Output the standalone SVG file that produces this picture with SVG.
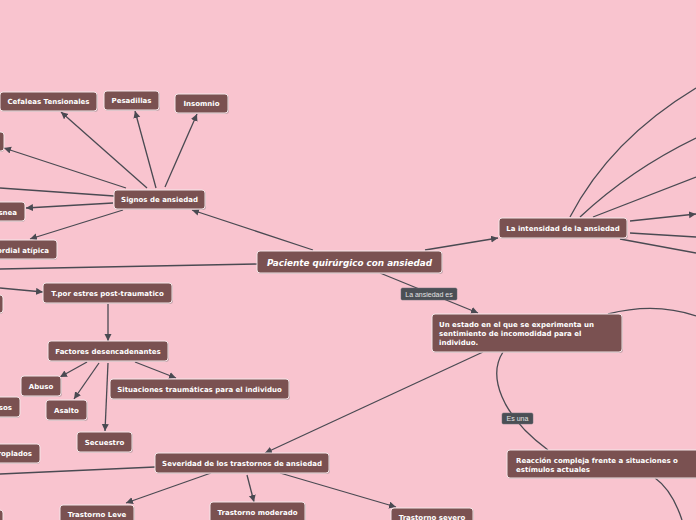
<svg xmlns="http://www.w3.org/2000/svg" width="696" height="520" viewBox="0 0 696 520">
<style>
.n{fill:#7A5151;stroke:#F3E6E8;stroke-width:1}
.sh{fill:#A8939A;opacity:0.6}
.t{font-family:"DejaVu Sans",Verdana,sans-serif;font-weight:bold;font-size:7px;fill:#FFFFFF;text-anchor:middle}
.te{text-anchor:end}
.tl{text-anchor:start}
.c{fill:none;stroke:#4A4A52;stroke-width:1.3}
.lb{fill:#4B4F55;stroke:#6a6f75;stroke-width:0.5}
.lt{font-family:"Liberation Sans",Arial,sans-serif;font-size:7px;fill:#E2E2E2}
</style>
<defs>
<marker id="ah" markerUnits="userSpaceOnUse" markerWidth="8" markerHeight="8" refX="7" refY="3.5" orient="auto">
<path d="M0,0 L7,3.5 L0,7 z" fill="#4A4A52"/>
</marker>
</defs>
<rect width="696" height="520" fill="#F9C4CF"/>
<g id="connectors">
<line class="c" x1="313" y1="250" x2="192" y2="210" marker-end="url(#ah)"/>
<line class="c" x1="257" y1="264" x2="0" y2="269"/>
<line class="c" x1="425" y1="250" x2="498" y2="238" marker-end="url(#ah)"/>
<line class="c" x1="380" y1="273" x2="478" y2="313" marker-end="url(#ah)"/>
<line class="c" x1="147" y1="188" x2="61" y2="112" marker-end="url(#ah)"/>
<line class="c" x1="156" y1="188" x2="135" y2="111" marker-end="url(#ah)"/>
<line class="c" x1="165" y1="187" x2="197" y2="114" marker-end="url(#ah)"/>
<line class="c" x1="126" y1="188" x2="4" y2="148" marker-end="url(#ah)"/>
<line class="c" x1="114" y1="196" x2="0" y2="188"/>
<line class="c" x1="113" y1="203" x2="26" y2="208" marker-end="url(#ah)"/>
<line class="c" x1="123" y1="210" x2="30" y2="239" marker-end="url(#ah)"/>
<line class="c" x1="0" y1="288" x2="43" y2="292" marker-end="url(#ah)"/>
<line class="c" x1="108" y1="304" x2="108" y2="341" marker-end="url(#ah)"/>
<line class="c" x1="87" y1="362" x2="60" y2="377" marker-end="url(#ah)"/>
<line class="c" x1="99" y1="363" x2="74" y2="399" marker-end="url(#ah)"/>
<line class="c" x1="108" y1="363" x2="105" y2="431" marker-end="url(#ah)"/>
<line class="c" x1="135" y1="362" x2="176" y2="378" marker-end="url(#ah)"/>
<line class="c" x1="483" y1="352" x2="265" y2="453" marker-end="url(#ah)"/>
<line class="c" x1="155" y1="467" x2="0" y2="474"/>
<line class="c" x1="211" y1="473" x2="126" y2="503" marker-end="url(#ah)"/>
<line class="c" x1="247" y1="475" x2="254" y2="502" marker-end="url(#ah)"/>
<line class="c" x1="280" y1="473" x2="396" y2="507" marker-end="url(#ah)"/>
<path class="c" d="M503,352 C488,375 500,415 548,450"/>
<path class="c" d="M608,314 Q655,302 696,316"/>
<path class="c" d="M655,478 Q672,490 682,520"/>
<path class="c" d="M570,217 Q610,140 696,88"/>
<path class="c" d="M580,217 Q630,170 696,138"/>
<line class="c" x1="593" y1="217" x2="696" y2="177"/>
<line class="c" x1="630" y1="221" x2="696" y2="214" marker-end="url(#ah)"/>
<line class="c" x1="630" y1="233" x2="696" y2="237"/>
<line class="c" x1="620" y1="239" x2="696" y2="253"/>
</g>
<g id="n-paciente">
<rect class="sh" x="258" y="252" width="185" height="22" rx="3"/>
<rect class="n" x="257" y="251" width="185" height="22" rx="3"/>
<text class="t" x="349.5" y="265.5" style="font-size:8.8px;font-style:italic">Paciente quirúrgico con ansiedad</text>
</g>
<g id="n-signos">
<rect class="sh" x="115" y="191" width="91" height="19" rx="3"/>
<rect class="n" x="114" y="190" width="91" height="19" rx="3"/>
<text class="t" x="159.5" y="202">Signos de ansiedad</text>
</g>
<g id="n-cefaleas">
<rect class="sh" x="1" y="93" width="97" height="19" rx="3"/>
<rect class="n" x="0" y="92" width="97" height="19" rx="3"/>
<text class="t" x="48.5" y="104">Cefaleas Tensionales</text>
</g>
<g id="n-pesadillas">
<rect class="sh" x="105" y="92" width="55" height="19" rx="3"/>
<rect class="n" x="104" y="91" width="55" height="19" rx="3"/>
<text class="t" x="131.5" y="103">Pesadillas</text>
</g>
<g id="n-insomnio">
<rect class="sh" x="176" y="95" width="53" height="19" rx="3"/>
<rect class="n" x="175" y="94" width="53" height="19" rx="3"/>
<text class="t" x="201.5" y="106">Insomnio</text>
</g>
<g id="n-left1">
<rect class="sh" x="-39" y="133" width="43" height="19" rx="3"/>
<rect class="n" x="-40" y="132" width="44" height="19" rx="3"/>
</g>
<g id="n-disnea">
<rect class="sh" x="-24" y="203" width="49" height="19" rx="3"/>
<rect class="n" x="-25" y="202" width="50" height="19" rx="3"/>
<text class="t te" x="17" y="214.5">snea</text>
</g>
<g id="n-atipica">
<rect class="sh" x="-39" y="241" width="96" height="19" rx="3"/>
<rect class="n" x="-40" y="240" width="97" height="19" rx="3"/>
<text class="t te" x="49" y="252.5">ordial atípica</text>
</g>
<g id="n-left2">
<rect class="sh" x="-39" y="296" width="42" height="18" rx="3"/>
<rect class="n" x="-40" y="295" width="43" height="18" rx="3"/>
</g>
<g id="n-tpor">
<rect class="sh" x="44" y="284" width="129" height="20" rx="3"/>
<rect class="n" x="43" y="283" width="129" height="20" rx="3"/>
<text class="t" x="107.5" y="295.5">T.por estres post-traumatico</text>
</g>
<g id="n-factores">
<rect class="sh" x="49" y="342" width="120" height="20" rx="3"/>
<rect class="n" x="48" y="341" width="120" height="20" rx="3"/>
<text class="t" x="108" y="353.5">Factores desencadenantes</text>
</g>
<g id="n-abuso">
<rect class="sh" x="22" y="377" width="40" height="20" rx="3"/>
<rect class="n" x="21" y="376" width="40" height="20" rx="3"/>
<text class="t" x="41" y="388.5">Abuso</text>
</g>
<g id="n-asalto">
<rect class="sh" x="47" y="401" width="41" height="20" rx="3"/>
<rect class="n" x="46" y="400" width="41" height="20" rx="3"/>
<text class="t" x="66.5" y="412.5">Asalto</text>
</g>
<g id="n-situaciones">
<rect class="sh" x="111" y="380" width="179" height="20" rx="3"/>
<rect class="n" x="110" y="379" width="179" height="20" rx="3"/>
<text class="t" x="199.5" y="391.5">Situaciones traumáticas para el individuo</text>
</g>
<g id="n-sos">
<rect class="sh" x="-39" y="398" width="59" height="20" rx="3"/>
<rect class="n" x="-40" y="397" width="60" height="20" rx="3"/>
<text class="t te" x="12" y="409.5">sos</text>
</g>
<g id="n-secuestro">
<rect class="sh" x="78" y="433" width="55" height="20" rx="3"/>
<rect class="n" x="77" y="432" width="55" height="20" rx="3"/>
<text class="t" x="104.5" y="444.5">Secuestro</text>
</g>
<g id="n-roplados">
<rect class="sh" x="-39" y="445" width="79" height="19" rx="3"/>
<rect class="n" x="-40" y="444" width="80" height="19" rx="3"/>
<text class="t te" x="32" y="456">roplados</text>
</g>
<g id="n-severidad">
<rect class="sh" x="156" y="454" width="174" height="20" rx="3"/>
<rect class="n" x="155" y="453" width="174" height="20" rx="3"/>
<text class="t" x="242" y="465.5">Severidad de los trastornos de ansiedad</text>
</g>
<g id="n-leve">
<rect class="sh" x="61" y="506" width="74" height="22" rx="3"/>
<rect class="n" x="60" y="505" width="74" height="22" rx="3"/>
<text class="t" x="97" y="516.5">Trastorno Leve</text>
</g>
<g id="n-moderado">
<rect class="sh" x="211" y="503" width="95" height="22" rx="3"/>
<rect class="n" x="210" y="502" width="95" height="22" rx="3"/>
<text class="t" x="257.5" y="514.5">Trastorno moderado</text>
</g>
<g id="n-severo">
<rect class="sh" x="392" y="509" width="82" height="22" rx="3"/>
<rect class="n" x="391" y="508" width="82" height="22" rx="3"/>
<text class="t" x="432" y="520">Trastorno severo</text>
</g>
<g id="n-left3">
<rect class="n" x="-40" y="510" width="43" height="20" rx="3"/>
</g>
<g id="n-estado">
<rect class="sh" x="433" y="315" width="190" height="38" rx="3"/>
<rect class="n" x="432" y="314" width="190" height="38" rx="3"/>
<text class="t tl" x="439" y="327">Un estado en el que se experimenta un</text>
<text class="t tl" x="439" y="336">sentimiento de incomodidad para el</text>
<text class="t tl" x="439" y="345">individuo.</text>
</g>
<g id="n-reaccion">
<rect class="sh" x="508" y="451" width="200" height="28" rx="3"/>
<rect class="n" x="507" y="450" width="200" height="28" rx="3"/>
<text class="t tl" x="516" y="463">Reacción compleja frente a situaciones o</text>
<text class="t tl" x="516" y="472">estímulos actuales</text>
</g>
<g id="n-intensidad">
<rect class="sh" x="500" y="219" width="128" height="20" rx="3"/>
<rect class="n" x="499" y="218" width="128" height="20" rx="3"/>
<text class="t" x="563" y="230.5">La intensidad de la ansiedad</text>
</g>
<g id="l-ansiedad-es">
<rect class="lb" x="401" y="288" width="56" height="12" rx="1.5"/>
<text class="lt" x="429" y="296.5" text-anchor="middle">La ansiedad es</text>
</g>
<g id="l-es-una">
<rect class="lb" x="502" y="413" width="31" height="11" rx="1.5"/>
<text class="lt" x="517.5" y="421" text-anchor="middle">Es una</text>
</g>
</svg>
